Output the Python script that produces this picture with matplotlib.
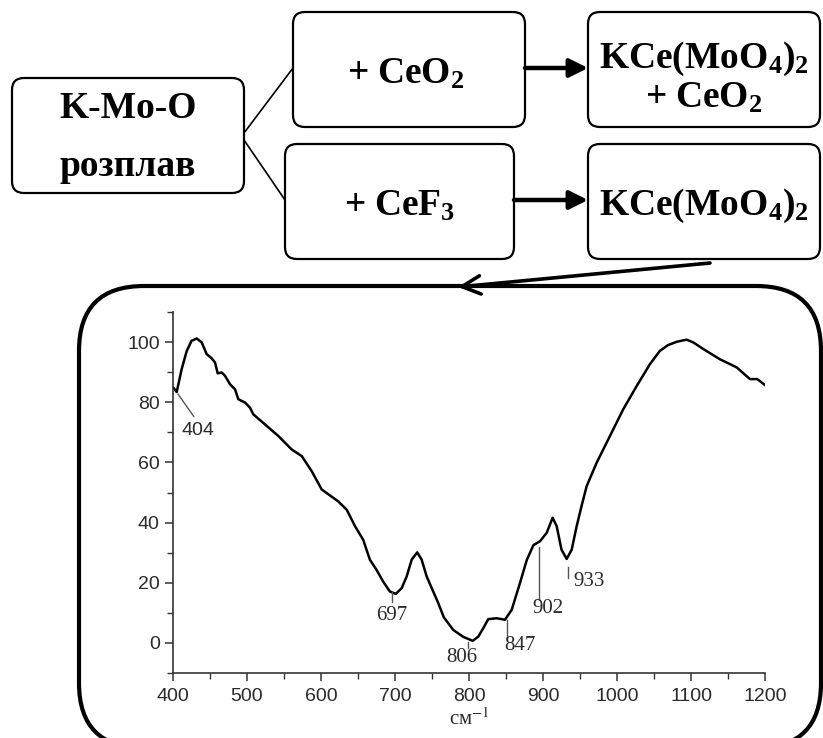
import matplotlib
matplotlib.use('Agg')
import matplotlib.pyplot as plt
from matplotlib.patches import FancyBboxPatch

plt.rcParams['mathtext.fontset'] = 'custom'
plt.rcParams['mathtext.rm'] = 'Liberation Serif:bold'
plt.rcParams['mathtext.it'] = 'Liberation Serif:bold'
plt.rcParams['mathtext.bf'] = 'Liberation Serif:bold'

# ---- data ----
wavenumber = [400, 405, 411.7, 418.5, 425, 432, 438.8, 445.5, 452.3, 456.8, 460.4, 465.8,
              470.3, 477, 483.8, 488.3, 497.3, 504, 508.5, 524, 542.3, 560.4, 574, 587.4,
              601, 623, 634.7, 646, 657, 666, 675, 684, 693, 701, 709, 715.8, 722.6, 730,
              736, 742.8, 751.8, 758, 766, 778.8, 792.3, 805, 812.6, 819.3, 826, 837.4,
              848.6, 857.7, 869, 878, 887, 896, 905, 913, 918.5, 925, 932, 938.8, 945.5,
              952, 959, 972.5, 990.5, 1008.5, 1026.6, 1044.6, 1058, 1069, 1080.7, 1094,
              1103, 1116.6, 1139, 1161.7, 1179.7, 1189.6, 1200]
transmittance = [85, 83.4, 91, 97, 100.4, 101.2, 99.9, 96, 94.6, 93.2, 89.6, 89.9,
                 88.8, 86, 84.3, 81, 79.9, 78.2, 76, 72.7, 68.8, 64.3, 62.1, 57.1,
                 51, 47.1, 44.3, 38.8, 34.3, 27.7, 24.3, 20.4, 17.1, 16.3, 18.2, 22.1, 27.7, 30.1,
                 27.7, 22.1, 17.0, 13.5, 8.5, 4.3, 2.0, 0.7, 2.1, 4.9, 7.9, 8.2,
                 7.7, 11, 20, 27.5, 32.5, 33.8, 36.6, 41.6, 38.8, 31, 27.9, 31, 38.8,
                 45.4, 52.1, 59.9, 68.8, 77.7, 85.4, 92.7, 97.1, 99, 100.1, 100.8,
                 99.9, 97.7, 94.3, 91.6, 87.7, 87.7, 85.7]
x_ticks = [400, 500, 600, 700, 800, 900, 1000, 1100, 1200]
y_ticks = [0, 20, 40, 60, 80, 100]
peak_labels = ['404', '697', '806', '847', '902', '933']
# leader lines (x0, y0, x1, y1) and label positions in data coords
peak_leaders = [(406.8, 82.7, 428, 75.3), (696, 17, 696, 13.5), (798.6, 0.3, 798.6, -1.7),
                (851, 7.7, 851, 1.0), (894.6, 32, 894.6, 14.3), (933.8, 25.3, 933.8, 21.7)]
peak_text_pos = [(434, 70.7), (696, 9.2), (790, -4.8), (869, -0.7), (907, 11.6), (962, 20.5)]

W, H = 823, 738
fig = plt.figure(figsize=(W / 100, H / 100), dpi=100)
bg = fig.add_axes([0, 0, 1, 1])
bg.set_xlim(0, W)
bg.set_ylim(H, 0)
bg.axis('off')

def rbox(x0, y0, x1, y1, r, lw):
    p = FancyBboxPatch((x0, y0), x1 - x0, y1 - y0,
                       boxstyle=f"round,pad=0,rounding_size={r}",
                       fc='white', ec='black', lw=lw, clip_on=False)
    bg.add_patch(p)

rbox(12, 78, 244, 193, 12, 1.6)
rbox(293, 12, 525, 127, 12, 1.6)
rbox(588, 12, 820, 127, 12, 1.6)
rbox(285, 144, 514, 259, 12, 1.6)
rbox(588, 144, 820, 259, 12, 1.6)
rbox(79, 286, 821, 748, 65, 3.0)

# branch lines
bg.plot([244, 293], [133, 68], color='black', lw=1.2)
bg.plot([244, 285], [140, 200], color='black', lw=1.2)

# thick arrows
for (xa, xb, yy) in [(525, 588, 68), (514, 588, 200)]:
    bg.annotate('', xy=(xb, yy), xytext=(xa, yy),
                arrowprops=dict(arrowstyle='-|>,head_length=0.5,head_width=0.25',
                                lw=3.2, color='black', shrinkA=0, shrinkB=0,
                                mutation_scale=22))
# long arrow to panel
bg.annotate('', xy=(458, 287), xytext=(710, 263),
            arrowprops=dict(arrowstyle='->,head_length=0.6,head_width=0.3',
                            lw=2.6, color='black', shrinkA=0, shrinkB=0,
                            mutation_scale=22))

tkw = dict(ha='center', va='center', fontsize=27, color='black',
           fontfamily='Liberation Serif', fontweight='bold')
bg.text(128, 108, 'K-Mo-O', **tkw)
bg.text(128, 166, 'розплав', **tkw)
bg.text(406, 74, r'$\mathrm{+\;CeO_2}$', **tkw)
bg.text(704, 59, r'$\mathrm{KCe(MoO_4)_2}$', **tkw)
bg.text(704, 98, r'$\mathrm{+\;CeO_2}$', **tkw)
bg.text(400, 206, r'$\mathrm{+\;CeF_3}$', **tkw)
bg.text(704, 206, r'$\mathrm{KCe(MoO_4)_2}$', **tkw)

# ---- spectrum axes ----
ax = fig.add_axes([173 / W, 1 - 673 / H, (765 - 173) / W, (673 - 312) / H])
ax.patch.set_alpha(0)
ax.plot(wavenumber, transmittance, color='black', lw=1.8)
ax.set_xlim(400, 1200)
ax.set_ylim(-10, 110)
ax.set_xticks(x_ticks)
ax.set_yticks(y_ticks)
ax.set_xticks(range(450, 1200, 100), minor=True)
ax.set_yticks(range(-10, 111, 20), minor=True)
for s in ['top', 'right']:
    ax.spines[s].set_visible(False)
for s in ['left', 'bottom']:
    ax.spines[s].set_color('#333333')
    ax.spines[s].set_linewidth(1.2)
ax.tick_params(which='major', direction='out', length=6, width=1.1, color='#333333',
               labelsize=14, labelcolor='#2a2a2a')
ax.tick_params(which='minor', direction='out', length=4, width=1.0, color='#333333')
for lab in ax.get_xticklabels() + ax.get_yticklabels():
    lab.set_fontfamily('Liberation Sans')
ax.tick_params(axis='x', pad=5)
ax.set_xlabel('см$^{-1}$', fontsize=15, fontfamily='Liberation Serif', color='#2a2a2a',
              math_fontfamily='stix', labelpad=2)

for i, lab in enumerate(peak_labels):
    x0, y0, x1, y1 = peak_leaders[i]
    ax.plot([x0, x1], [y0, y1], color='#555555', lw=1.0)
    tx, ty = peak_text_pos[i]
    fam = 'Liberation Sans' if lab == '404' else 'Liberation Serif'
    ax.text(tx, ty, lab, ha='center', va='center', fontsize=15 if fam == 'Liberation Serif' else 14,
            color='#2a2a2a', fontfamily=fam)

fig.savefig('out.png', dpi=100)
